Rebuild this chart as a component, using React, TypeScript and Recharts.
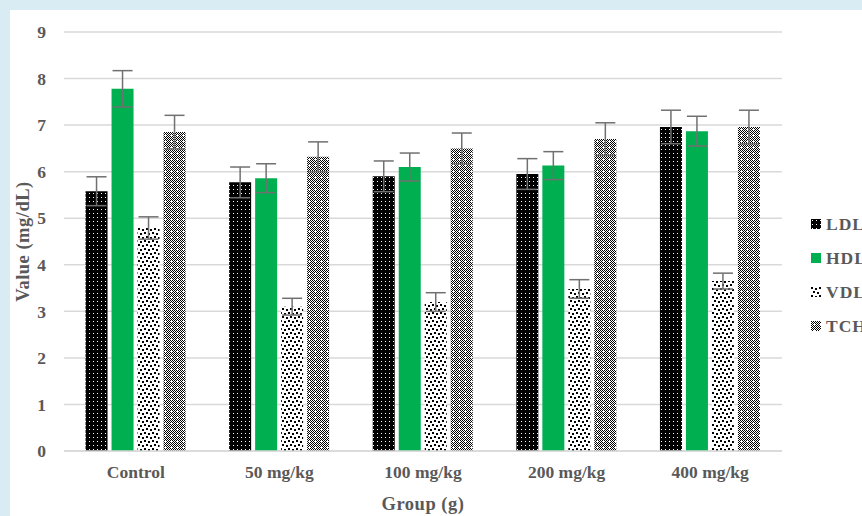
import React from 'react';
import { BarChart, Bar, XAxis, YAxis, CartesianGrid, ErrorBar } from 'recharts';

const groups = ['Control', '50 mg/kg', '100 mg/kg', '200 mg/kg', '400 mg/kg'];
const ldl = [5.58, 5.77, 5.9, 5.95, 6.96];
const ldlErr = [0.31, 0.33, 0.33, 0.33, 0.36];
const hdl = [7.78, 5.86, 6.1, 6.13, 6.87];
const hdlErr = [0.39, 0.31, 0.3, 0.3, 0.32];
const vdl = [4.79, 3.1, 3.2, 3.48, 3.65];
const vdlErr = [0.24, 0.18, 0.2, 0.2, 0.17];
const tch = [6.85, 6.32, 6.5, 6.7, 6.96];
const tchErr = [0.36, 0.32, 0.33, 0.35, 0.36];
const yTicks = [0, 1, 2, 3, 4, 5, 6, 7, 8, 9];

const series = [
  { key: 'LDL', fill: 'url(#pLDL)' },
  { key: 'HDL', fill: '#00b050' },
  { key: 'VDL', fill: 'url(#pVDL)' },
  { key: 'TCH', fill: 'url(#pTCH)' },
];

const data = groups.map((g, i) => ({
  name: g,
  LDL: ldl[i], LDLe: ldlErr[i],
  HDL: hdl[i], HDLe: hdlErr[i],
  VDL: vdl[i], VDLe: vdlErr[i],
  TCH: tch[i], TCHe: tchErr[i],
}));

const textColor = '#595959';
const font = '"Liberation Serif", "Times New Roman", serif';

// svg patterns shared by bars and legend swatches
const Patterns = () => (
  <defs>
    <pattern id="pLDL" width="4" height="4" patternUnits="userSpaceOnUse">
      <rect width="4" height="4" fill="#000" />
      <rect x="1" y="1" width="1" height="1" fill="#fff" />
    </pattern>
    <pattern id="pVDL" width="8" height="8" patternUnits="userSpaceOnUse">
      <rect width="8" height="8" fill="#fff" />
      <rect x="0" y="0" width="2" height="2" fill="#000" />
      <rect x="4" y="1" width="2" height="2" fill="#000" />
      <rect x="2" y="4" width="2" height="2" fill="#000" />
      <rect x="6" y="5" width="2" height="2" fill="#000" />
    </pattern>
    <pattern id="pChk" width="2" height="2" patternUnits="userSpaceOnUse">
      <rect width="2" height="2" fill="#fff" />
      <rect x="0" y="0" width="1" height="1" fill="#000" />
      <rect x="1" y="1" width="1" height="1" fill="#000" />
    </pattern>
    <pattern id="pTCH" width="6" height="6" patternUnits="userSpaceOnUse">
      <rect width="6" height="6" fill="url(#pChk)" />
      <rect x="2" y="3" width="3" height="1" fill="#fff" />
      <rect x="3" y="2" width="1" height="3" fill="#fff" />
    </pattern>
  </defs>
);

const tickStyle = { fill: textColor, fontSize: 17.5, fontWeight: 'bold', fontFamily: font };

export default function App() {
  return (
    <div style={{ position: 'fixed', left: 0, top: 0, width: 862, height: 516, background: '#d9ecf3', overflow: 'hidden', fontFamily: font }}>
      <div style={{ position: 'absolute', left: 10, top: 10, right: 0, bottom: 0, background: '#fff' }} />
      <div style={{ position: 'absolute', left: 0, top: 0 }}>
        <BarChart
          width={862}
          height={516}
          data={data}
          margin={{ top: 32, right: 80, left: 2, bottom: 0 }}
          barCategoryGap="15%"
          barGap={4}
        >
          <Patterns />
          <CartesianGrid vertical={false} stroke="#d9d9d9" strokeWidth={1.5} />
          <XAxis
            dataKey="name"
            axisLine={{ stroke: '#d9d9d9', strokeWidth: 1.5 }}
            tickLine={false}
            height={65}
            tickMargin={9}
            tick={tickStyle}
            label={{ value: 'Group  (g)', position: 'insideBottom', offset: 6, fill: textColor, fontSize: 18.5, fontWeight: 'bold', fontFamily: font, letterSpacing: 0.5 }}
          />
          <YAxis
            domain={[0, 9]}
            ticks={yTicks}
            axisLine={false}
            tickLine={false}
            width={62}
            tickMargin={12}
            tick={tickStyle}
            label={{ value: 'Value  (mg/dL)', angle: -90, position: 'insideLeft', offset: 20, fill: textColor, fontSize: 18.5, fontWeight: 'bold', fontFamily: font, letterSpacing: 0.5, style: { textAnchor: 'middle' } }}
          />
          {series.map((s) => (
            <Bar key={s.key} dataKey={s.key} fill={s.fill} isAnimationActive={false}>
              <ErrorBar dataKey={`${s.key}e`} width={10} stroke="#707070" strokeWidth={1.5} />
            </Bar>
          ))}
        </BarChart>
      </div>
      <div style={{ position: 'absolute', left: 811, top: 207 }}>
        {series.map((s) => (
          <div key={s.key} style={{ display: 'flex', alignItems: 'center', height: 34 }}>
            <svg width={10} height={10} style={{ marginRight: 5 }}>
              <Patterns />
              <rect width={10} height={10} fill={s.fill} />
            </svg>
            <span style={{ color: textColor, fontSize: 17.5, fontWeight: 'bold', letterSpacing: 1 }}>{s.key}</span>
          </div>
        ))}
      </div>
    </div>
  );
}
